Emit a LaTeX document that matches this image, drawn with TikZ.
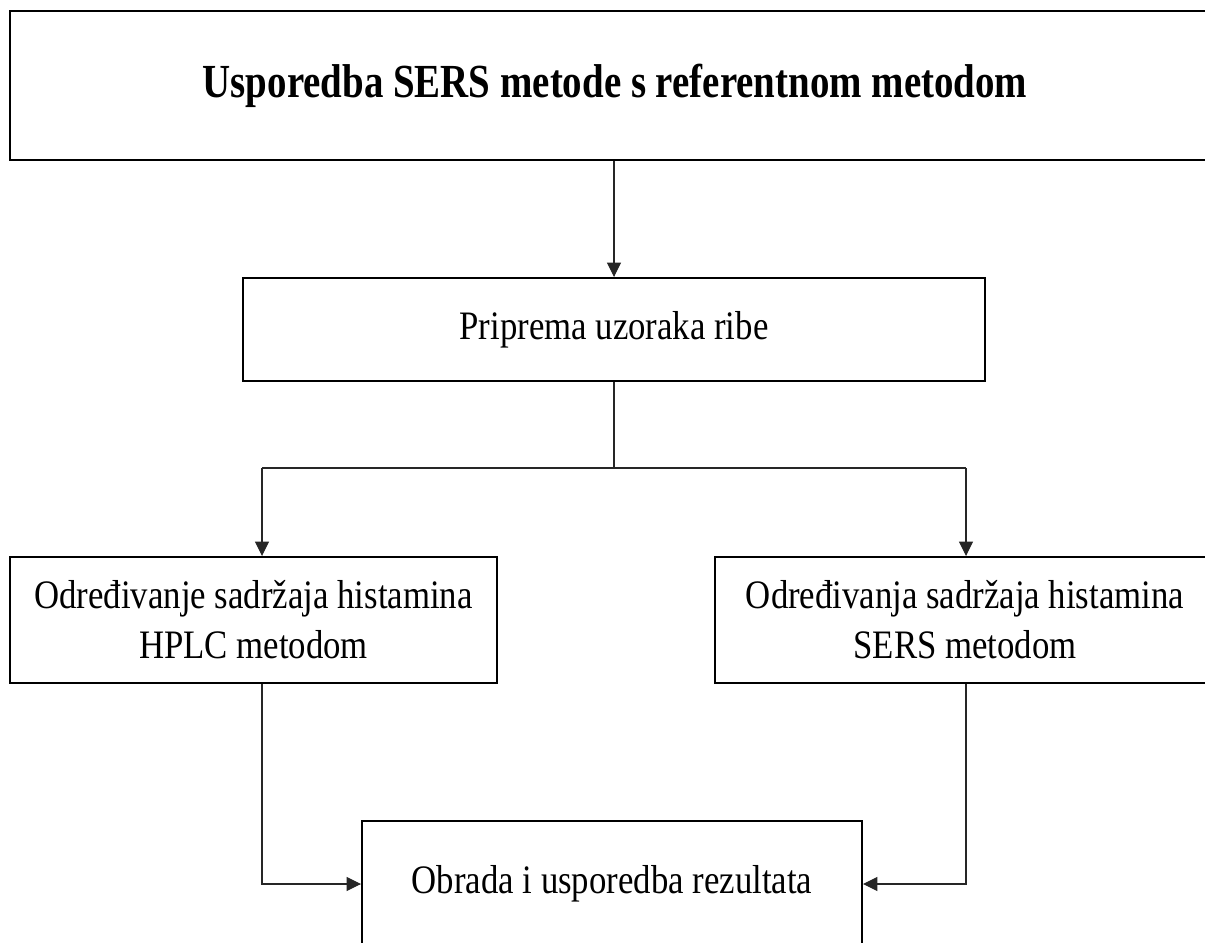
\documentclass[tikz,border=0pt]{standalone}
\usepackage{fontspec}
\setmainfont[FakeStretch=0.86]{Liberation Serif}
\newfontfamily\titlefont[FakeStretch=0.82]{Liberation Serif}
\usepackage{tikz}
\usetikzlibrary{positioning,arrows.meta}

\begin{document}
\begin{tikzpicture}[font=\fontsize{23}{28.5}\selectfont,
  block/.style={draw=black,line width=1.1pt,fill=white,inner sep=5pt,align=center},
  ar/.style={-{Triangle[length=2.9mm,width=2.8mm]},line width=0.6pt,draw=black!85}]
\useasboundingbox (0,0) rectangle (24.1,18.84);
\clip (0,0) rectangle (24.1,18.84);
\node[block,minimum width=24.2cm,minimum height=2.98cm,font=\titlefont\fontsize{27}{32}\selectfont\bfseries] (title) at (12.3,17.13) {Usporedba SERS metode s referentnom metodom};
\node[block,minimum width=14.84cm,minimum height=2.06cm] (prep) at (12.28,12.25) {Priprema uzoraka ribe};
\node[block,minimum width=9.74cm,minimum height=2.52cm] (hplc) at (5.07,6.44) {Određivanje sadržaja histamina\\HPLC metodom};
\node[block,minimum width=10cm,minimum height=2.52cm] (sers) at (19.3,6.44) {Određivanja sadržaja histamina\\SERS metodom};
\node[block,minimum width=10cm,minimum height=2.52cm] (obr) at (12.24,1.16) {Obrada i usporedba rezultata};
\coordinate (lbr) at (5.24,9.48);
\coordinate (rbr) at (19.32,9.48);
\draw[ar] (title.south -| prep.north) -- (prep.north);
\draw[ar,-] (prep.south) -- (prep.south |- lbr);
\draw[ar,-] (lbr) -- (rbr);
\draw[ar] (lbr) -- (lbr |- hplc.north);
\draw[ar] (rbr) -- (rbr |- sers.north);
\draw[ar] (lbr |- hplc.south) |- (obr.west);
\draw[ar] (rbr |- sers.south) |- (obr.east);
\end{tikzpicture}
\end{document}
